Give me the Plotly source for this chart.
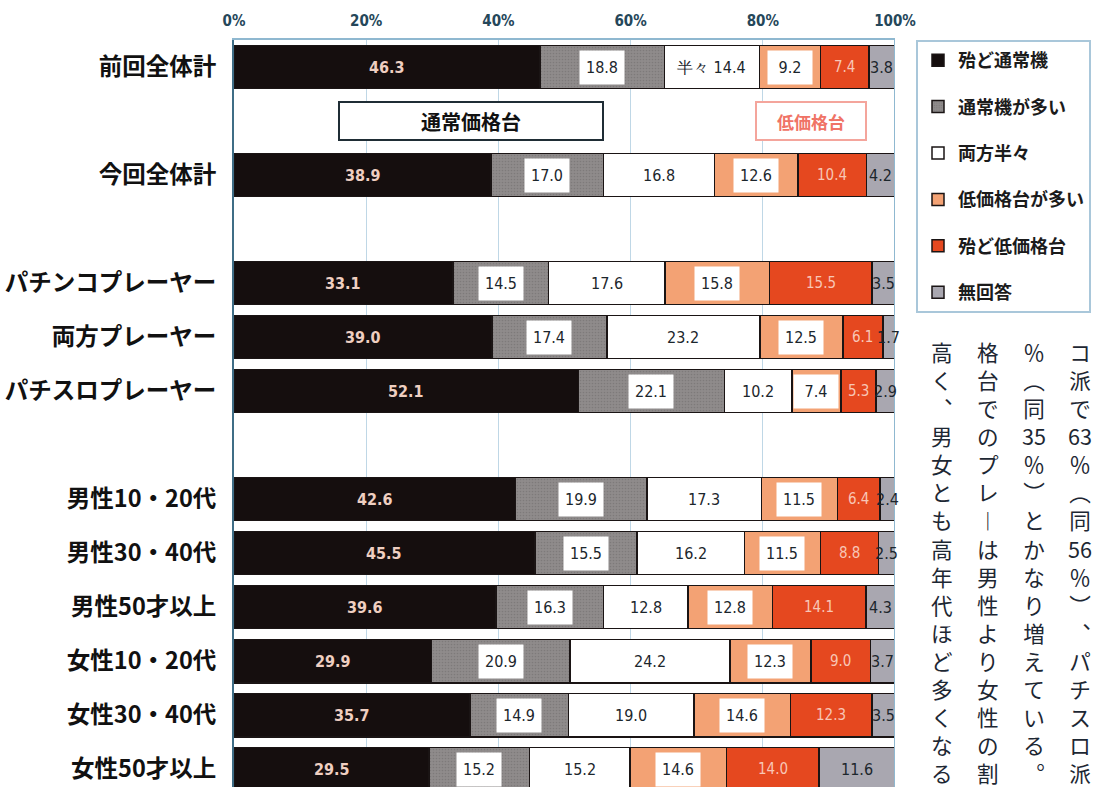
import plotly.graph_objects as go

# ---- data -------------------------------------------------------------
categories = ["前回全体計", "今回全体計", "パチンコプレーヤー", "両方プレーヤー", "パチスロプレーヤー",
              "男性10・20代", "男性30・40代", "男性50才以上", "女性10・20代", "女性30・40代", "女性50才以上"]
series_names = ["殆ど通常機", "通常機が多い", "両方半々", "低価格台が多い", "殆ど低価格台", "無回答"]

mostly_regular = [46.3, 38.9, 33.1, 39.0, 52.1, 42.6, 45.5, 39.6, 29.9, 35.7, 29.5]
more_regular = [18.8, 17.0, 14.5, 17.4, 22.1, 19.9, 15.5, 16.3, 20.9, 14.9, 15.2]
half_half = [14.4, 16.8, 17.6, 23.2, 10.2, 17.3, 16.2, 12.8, 24.2, 19.0, 15.2]
more_low = [9.2, 12.6, 15.8, 12.5, 7.4, 11.5, 11.5, 12.8, 12.3, 14.6, 14.6]
mostly_low = [7.4, 10.4, 15.5, 6.1, 5.3, 6.4, 8.8, 14.1, 9.0, 12.3, 14.0]
no_answer = [3.8, 4.2, 3.5, 1.7, 2.9, 2.4, 2.5, 4.3, 3.7, 3.5, 11.6]

tick_values = [0, 20, 40, 60, 80, 100]
tick_labels = ["0%", "20%", "40%", "60%", "80%", "100%"]

# row order on the axis, blank rows separate the groups
row_order = ["前回全体計", " ", "今回全体計", "  ",
             "パチンコプレーヤー", "両方プレーヤー", "パチスロプレーヤー", "   ",
             "男性10・20代", "男性30・40代", "男性50才以上",
             "女性10・20代", "女性30・40代", "女性50才以上"]

# side text, one list per vertical column (right to left)
side_columns = [
    ["コ", "派", "で", "63", "％", "︵", "同", "56", "％", "︶", "︑", "パ", "チ", "ス", "ロ", "派"],
    ["％", "︵", "同", "35", "％", "︶", "と", "か", "な", "り", "増", "え", "て", "い", "る", "︒"],
    ["格", "台", "で", "の", "プ", "レ", "︱", "は", "男", "性", "よ", "り", "女", "性", "の", "割"],
    ["高", "く", "︑", "男", "女", "と", "も", "高", "年", "代", "ほ", "ど", "多", "く", "な", "る"],
]

# ---- styling ----------------------------------------------------------
W, H = 1105, 787
L, R, T = 234, 210, 40
JP = "Noto Sans CJK JP"
NUM = "Liberation Sans Narrow, DejaVu Sans Condensed, Liberation Sans, sans-serif"

series_values = [mostly_regular, more_regular, half_half, more_low, mostly_low, no_answer]
colors = ["#150e0e", "#8f8b8b", "#ffffff", "#f3a274", "#e5481f", "#a9a7b0"]
label_style = [
    dict(color="#efcfc1", weight="bold", box=False, size=16),
    dict(color="#1c262c", weight="normal", box=True, size=16),
    dict(color="#1c262c", weight="normal", box=False, size=16),
    dict(color="#1c262c", weight="normal", box=True, size=16),
    dict(color="#f8c6b6", weight="normal", box=False, size=15),
    dict(color="#1c262c", weight="normal", box=False, size=16),
]

fig = go.Figure()
for name, vals, col in zip(series_names, series_values, colors):
    marker = dict(color=col, line=dict(color="#1a1414", width=1.5))
    if name == "通常機が多い":
        # halftone-like dot texture on the grey segment
        marker["pattern"] = dict(shape=".", fgcolor="#6e6a6a", bgcolor=col, size=3, solidity=0.25)
    fig.add_trace(go.Bar(
        y=categories, x=vals, name=name, orientation="h",
        width=0.8, legendgroup=name, marker=marker, hoverinfo="skip",
    ))

annotations = []
# segment value labels, centred in each stacked segment
for i, cat in enumerate(categories):
    left = 0.0
    for s, vals in enumerate(series_values):
        v = vals[i]
        mid = left + v / 2
        left += v
        st = label_style[s]
        text = f"{v:.1f}"
        if cat == "前回全体計" and series_names[s] == "両方半々":
            text = "半々 " + text
        ann = dict(x=mid, y=cat, xref="x", yref="y", text=text, showarrow=False,
                   font=dict(family=NUM, size=st["size"], color=st["color"], weight=st["weight"]),
                   xanchor="center", yanchor="middle")
        if st["box"]:
            ann.update(bgcolor="#ffffff", width=42, height=31, borderpad=1)
        annotations.append(ann)

# group header boxes in the blank row
annotations.append(dict(x=35.9, y=" ", xref="x", yref="y", text="通常価格台", showarrow=False,
                        font=dict(family=JP, size=20, color="#111111", weight="bold"),
                        bgcolor="#ffffff", bordercolor="#1f2d35", borderwidth=2,
                        width=260, height=34, borderpad=1))
annotations.append(dict(x=87.3, y=" ", xref="x", yref="y", text="低価格台", showarrow=False,
                        font=dict(family=JP, size=17, color="#f07366", weight="bold"),
                        bgcolor="#ffffff", bordercolor="#f4a59c", borderwidth=2,
                        width=106, height=34, borderpad=1))


def px_x(x):
    return (x - L) / (W - L - R)


def px_y(y):
    return 1 - (y - T) / (H - T)


# vertical side text: each column is one stacked text block
col_x = [1080, 1034, 988, 942]
for cx, chars in zip(col_x, side_columns):
    annotations.append(dict(x=px_x(cx), y=px_y(334), xref="paper", yref="paper",
                            text="<br>".join(chars), showarrow=False,
                            xanchor="center", yanchor="top", align="center",
                            font=dict(family=JP, size=21.6, color="#1d2733")))

fig.update_layout(
    width=W, height=H,
    margin=dict(l=L, r=R, t=T, b=0, pad=0),
    paper_bgcolor="#ffffff", plot_bgcolor="#ffffff",
    barmode="stack", bargap=0.2,
    showlegend=True,
    legend=dict(x=px_x(916), xanchor="left", y=1, yanchor="top",
                bgcolor="#ffffff", bordercolor="#a9c7da", borderwidth=2,
                font=dict(family=JP, size=18, color="#1b1b1b", weight="bold"),
                tracegroupgap=20, traceorder="grouped", itemclick=False, itemdoubleclick=False),
    xaxis=dict(range=[0, 100], side="top", tickvals=tick_values, ticktext=tick_labels,
               tickfont=dict(family=NUM, size=15, color="#25475a", weight="bold"),
               showgrid=True, gridcolor="#bfd7e6", gridwidth=1, zeroline=False,
               showline=True, linecolor="#8fb8d0", linewidth=2, ticks="", ticklabelstandoff=6,
               fixedrange=True),
    yaxis=dict(type="category", categoryorder="array", categoryarray=row_order,
               range=[13.33, -0.5], showgrid=False, zeroline=False,
               showline=True, linecolor="#3f6d86", linewidth=2, ticks="",
               tickfont=dict(family=JP, size=23.5, color="#111111", weight="bold"),
               ticklabelstandoff=11, fixedrange=True),
    shapes=[dict(type="line", xref="x", yref="paper", x0=100, x1=100, y0=0, y1=1,
                 line=dict(color="#8fb8d0", width=2))],
    annotations=annotations,
)

fig.write_html("out.html")
